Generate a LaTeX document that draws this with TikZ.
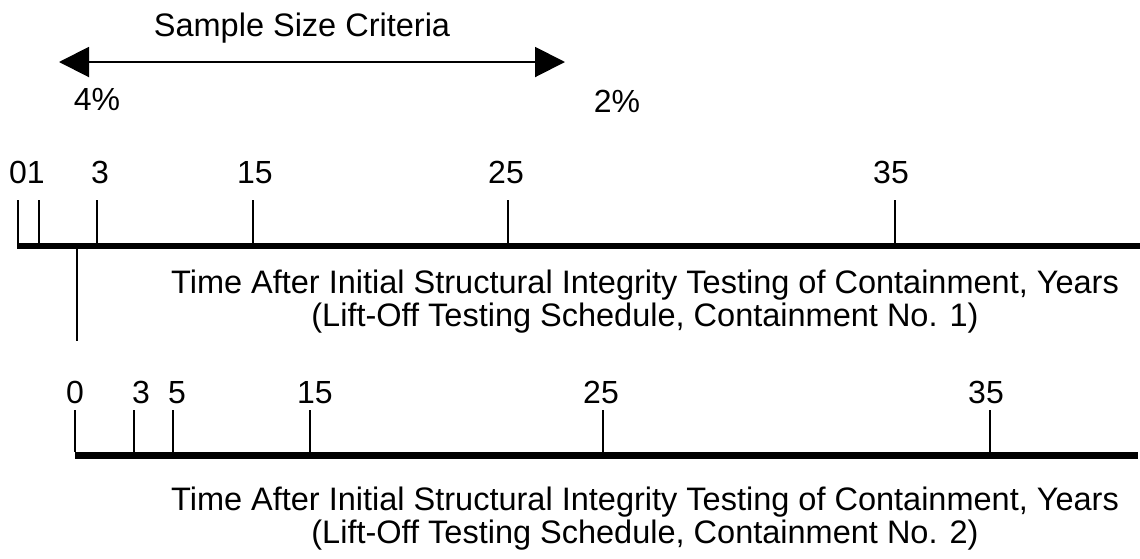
\documentclass[tikz,border=0pt]{standalone}
\usepackage{fontspec}
\setmainfont{Liberation Sans}
\usetikzlibrary{arrows.meta}
\begin{document}
\begin{tikzpicture}[x=1pt,y=-1pt,
  lbl/.style={font=\fontsize{32}{36}\selectfont, inner sep=0pt, anchor=base},
  captxt/.style={font=\fontsize{32.5}{33}\selectfont, align=center, inner sep=0pt, anchor=center},
  tickln/.style={line width=1.4pt},
  axisln/.style={line width=6.5pt},
  linkln/.style={line width=1.3pt},
  bigarrow/.style={line width=2pt, {Triangle[length=30pt,width=30pt]}-{Triangle[length=30pt,width=30pt]}}]
\useasboundingbox (0,0) rectangle (1140,558);
% top arrow
\node[lbl, font=\fontsize{32.5}{36}\selectfont] (title) at (302,36) {Sample Size Criteria};
\coordinate (aL) at (59,62);
\coordinate (aR) at (565,62);
\draw[bigarrow] (aL) -- (aR);
\node[lbl] (p4) at (97,110) {4\%};
\node[lbl] (p2) at (617,112) {2\%};
% axis 1
\coordinate (a1s) at (17,246);
\coordinate (a1e) at (1140,246);
\draw[axisln] (a1s) -- (a1e);
\foreach \n/\x in {t0/18,t1/39,t3/97,t15/253,t25/508,t35/895}{
  \coordinate (\n top) at (\x,200);
  \coordinate (\n bot) at (\x,243);
  \draw[tickln] (\n top) -- (\n bot);
}
\node[lbl] (l01) at (27,183.5) {01};
\node[lbl] (l3) at (100,183.5) {3};
\node[lbl] (l15) at (255,183.5) {15};
\node[lbl] (l25) at (506,183.5) {25};
\node[lbl] (l35) at (891,183.5) {35};
\node[captxt] (cap1) at (645,302) {Time After Initial Structural Integrity Testing of Containment, Years\\(Lift-Off Testing Schedule, Containment No. 1)};
% link
\coordinate (vtop) at (77,249);
\coordinate (vbot) at (77,341);
\draw[linkln] (vtop) -- (vbot);
% axis 2
\coordinate (a2s) at (75,455.5);
\coordinate (a2e) at (1138,455.5);
\draw[axisln] (a2s) -- (a2e);
\foreach \n/\x in {u0/75,u3/134,u5/173,u15/310,u25/603,u35/990}{
  \coordinate (\n top) at (\x,410);
  \coordinate (\n bot) at (\x,452);
  \draw[tickln] (\n top) -- (\n bot);
}
\node[lbl] (m0) at (75,403.5) {0};
\node[lbl] (m3) at (141,403.5) {3};
\node[lbl] (m5) at (177,403.5) {5};
\node[lbl] (m15) at (315,403.5) {15};
\node[lbl] (m25) at (601,403.5) {25};
\node[lbl] (m35) at (986,403.5) {35};
\node[captxt] (cap2) at (645,519) {Time After Initial Structural Integrity Testing of Containment, Years\\(Lift-Off Testing Schedule, Containment No. 2)};
\end{tikzpicture}
\end{document}
